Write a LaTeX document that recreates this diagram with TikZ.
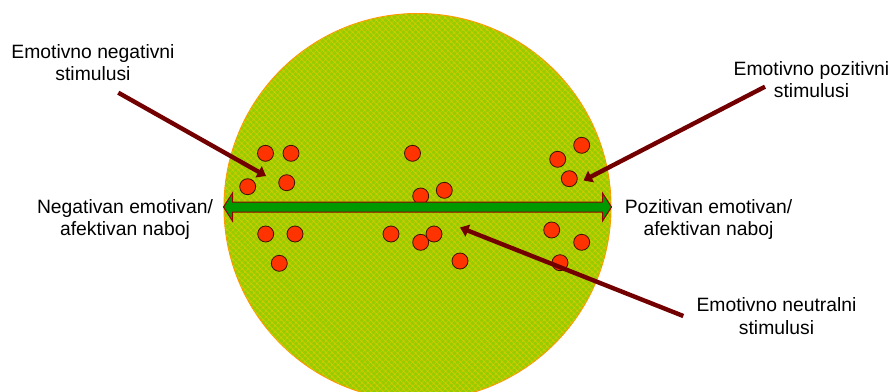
\documentclass[tikz,border=0pt]{standalone}
\usepackage{fontspec}
\setmainfont{Liberation Sans}
\usetikzlibrary{calc,arrows.meta,patterns.meta}
\definecolor{discgreen}{RGB}{153,204,0}
\definecolor{hatchyel}{RGB}{215,205,0}
\definecolor{discedge}{RGB}{255,150,0}
\definecolor{dotred}{RGB}{255,51,0}
\definecolor{dotedge}{RGB}{60,20,0}
\definecolor{arrbrown}{RGB}{115,0,0}
\definecolor{arrgreen}{RGB}{0,153,0}
\definecolor{arredge}{RGB}{150,0,0}
\tikzset{
  lbl/.style={inner sep=0pt, align=center, font=\fontsize{19.3}{22.4}\selectfont},
  disc/.style={circle, inner sep=0pt, minimum size=387pt, fill=discgreen, draw=discedge, line width=1pt,
    postaction={pattern={Hatch[angle=45,distance=4pt,line width=0.6pt]}, pattern color=hatchyel}},
  stim/.style={circle, inner sep=0pt, minimum size=16pt, fill=dotred, draw=dotedge, line width=0.8pt},
  pointer/.style={draw=arrbrown, line width=4.4pt, -{Triangle[width=12.5pt,length=8.5pt]}},
  garrow/.style={fill=arrgreen, draw=arredge, line width=1pt, line join=miter}
}
\begin{document}
\begin{tikzpicture}[x=1pt,y=-1pt]
\useasboundingbox (0,0) rectangle (893,391);
\clip (0,0) rectangle (893,391);
% disc
\node[disc] (circ) at (417.5,207) {};
% stimuli dots
\foreach \n/\px/\py in {d1/265.5/153.3, d2/291/153.3, d3/247.7/186.7, d4/286.7/182.7, d5/265.7/234,
  d6/295/234, d7/279.3/263.3, d8/412.5/153.3, d9/420.7/196, d10/444.3/190.3, d11/391/234,
  d12/420.7/242.3, d13/434/234, d14/460/261, d15/581.7/145.3, d16/557.7/159.3, d17/569.3/178.7,
  d18/551.7/230, d19/581.7/242.3, d20/560/262.7}
  \node[stim] (\n) at (\px,\py) {};
% green double arrow
\draw[garrow] (circ.west) -- ++(9,-14) -- ++(0,9) -- ($(circ.east)+(-9,-5)$) -- ++(0,-9)
  -- (circ.east) -- ++(-9,14) -- ++(0,-9) -- ($(circ.west)+(9,5)$) -- ++(0,9) -- cycle;
% labels
\node[lbl] (negstim) at (93,62.3) {Emotivno negativni\\stimulusi};
\node[lbl] (posstim) at (811.5,79.3) {Emotivno pozitivni\\stimulusi};
\node[lbl] (neustim) at (776.5,316) {Emotivno neutralni\\stimulusi};
\node[lbl] (negnab) at (125,219.3) {Negativan emotivan/\\afektivan naboj};
\node[lbl] (posnab) at (708.5,219.3) {Pozitivan emotivan/\\afektivan naboj};
% pointer arrows
\coordinate (negS) at (118.3,92.7);
\coordinate (negT) at (266,176);
\coordinate (posS) at (765,86.7);
\coordinate (posT) at (583.5,180.5);
\coordinate (neuS) at (683.3,316);
\coordinate (neuT) at (460,227.5);
\draw[pointer] (negS) -- (negT);
\draw[pointer] (posS) -- (posT);
\draw[pointer] (neuS) -- (neuT);
\end{tikzpicture}
\end{document}
